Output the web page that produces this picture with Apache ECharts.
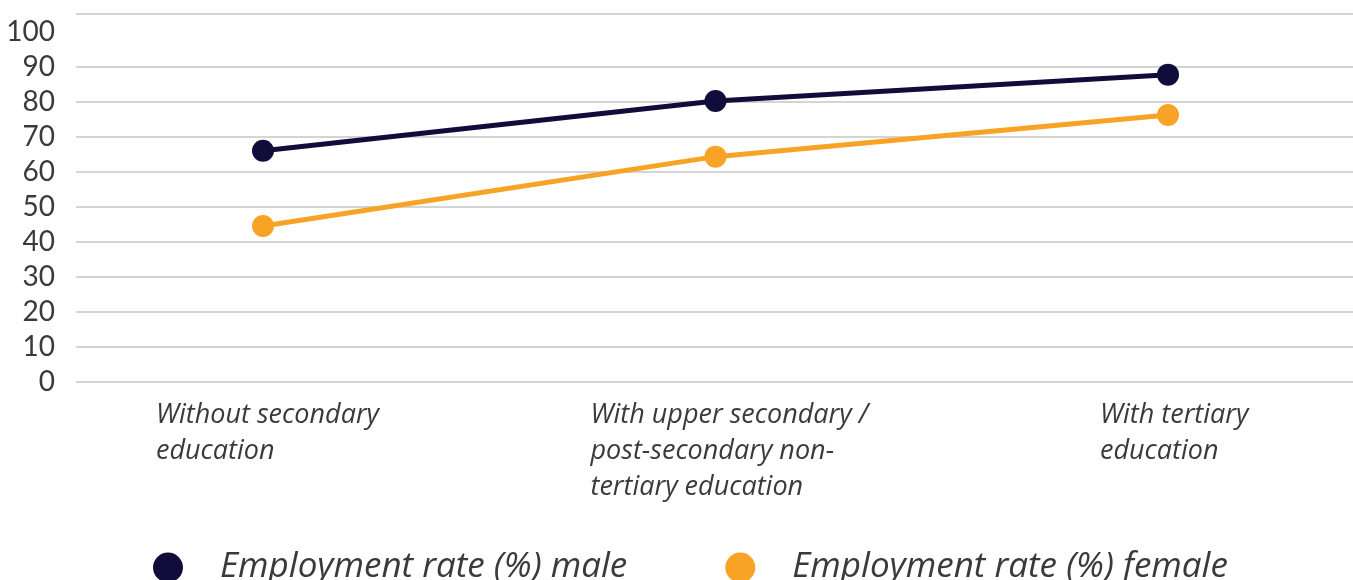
<!DOCTYPE html>
<html>
<head>
<meta charset="utf-8">
<script src="https://cdn.jsdelivr.net/npm/echarts@6/dist/echarts.min.js"></script>
<style>
html,body{margin:0;padding:0;background:#fff;}
#chart{width:1353px;height:580px;}
</style>
</head>
<body>
<div id="chart"></div>
<script>
var categories = [
  'Without secondary\neducation',
  'With upper secondary /\npost-secondary non-\ntertiary education',
  'With tertiary\neducation'
];
var seriesNames = ['Employment rate (%) male', 'Employment rate (%) female'];
var maleValues = [66, 80.2, 87.7];
var femaleValues = [44.5, 64.3, 76.2];
var yTicks = { min: 0, max: 105, interval: 10 };

var FONT = 'Lato';
var FONT_I = 'Open Sans';
var TEXT = '#3a3a3a';
var GRIDC = '#d4d4d4';
var labelShift = [107, 125, 68];
var rich = {};
labelShift.forEach(function (w, i) {
  rich['c' + i] = { width: w, align: 'left', fontSize: 27, fontStyle: 'italic', fontFamily: FONT_I, color: TEXT, lineHeight: 36 };
});

var chart = echarts.init(document.getElementById('chart'));
chart.setOption({
  animation: false,
  backgroundColor: '#fff',
  grid: [
    { left: 263, right: 185, top: 14, bottom: 198 },
    { left: 76, right: 0, top: 14, bottom: 198 }
  ],
  legend: {
    data: seriesNames,
    left: 148,
    top: 545,
    icon: 'circle',
    itemWidth: 30,
    itemHeight: 30,
    itemGap: 98,
    textStyle: { fontFamily: FONT_I, fontStyle: 'italic', fontSize: 35, color: TEXT, padding: [0, 0, 0, 32], lineHeight: 30 }
  },
  xAxis: [
    {
      type: 'category', gridIndex: 0, data: categories, boundaryGap: false,
      axisLine: { show: false }, axisTick: { show: false },
      axisLabel: {
        interval: 0, align: 'right', margin: 15,
        formatter: function (v, i) {
          return v.split('\n').map(function (l) { return '{c' + i + '|' + l + '}'; }).join('\n');
        },
        rich: rich
      }
    },
    { type: 'value', gridIndex: 1, show: false, min: 0, max: 1 }
  ],
  yAxis: [
    { type: 'value', gridIndex: 0, min: yTicks.min, max: yTicks.max, interval: yTicks.interval, show: false, splitLine: { show: false } },
    {
      type: 'value', gridIndex: 1, min: yTicks.min, max: yTicks.max, interval: yTicks.interval,
      axisLine: { show: false }, axisTick: { show: false },
      axisLabel: { showMaxLabel: false, fontFamily: FONT, fontSize: 28, color: TEXT, margin: 21, padding: [0, 0, 4, 0] },
      splitLine: { show: true, lineStyle: { width: 2, color: [GRIDC, GRIDC, GRIDC, GRIDC, GRIDC, GRIDC, GRIDC, GRIDC, GRIDC, GRIDC, 'rgba(0,0,0,0)', GRIDC] } }
    }
  ],
  series: [
    {
      name: seriesNames[0], type: 'line', xAxisIndex: 0, yAxisIndex: 0, data: maleValues,
      symbol: 'circle', symbolSize: 22, color: '#110d3b',
      lineStyle: { width: 5, color: '#110d3b' }, itemStyle: { color: '#110d3b' }, z: 3
    },
    {
      name: seriesNames[1], type: 'line', xAxisIndex: 0, yAxisIndex: 0, data: femaleValues,
      symbol: 'circle', symbolSize: 22, color: '#f9a326',
      lineStyle: { width: 5, color: '#f9a326' }, itemStyle: { color: '#f9a326' }, z: 2
    }
  ]
});
</script>
</body>
</html>
